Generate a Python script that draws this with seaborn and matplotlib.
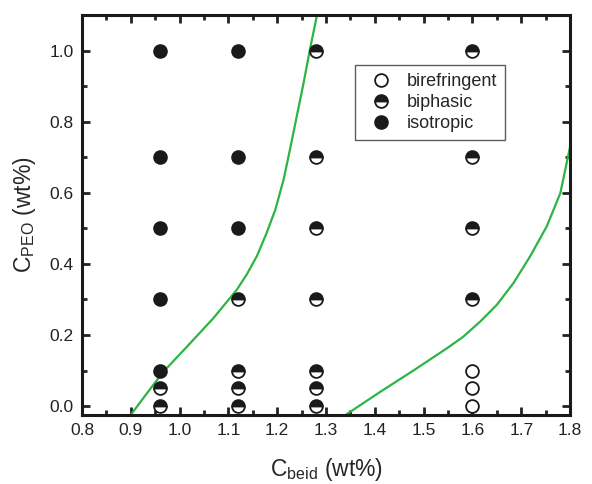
import numpy as np
import pandas as pd
import seaborn as sns
import matplotlib.pyplot as plt
from matplotlib.lines import Line2D
from matplotlib.ticker import MultipleLocator

# phase points: C_beid, C_PEO
biref_x = [1.6, 1.6, 1.6]
biref_y = [0.0, 0.05, 0.1]
biph_x = [0.96, 0.96,
          1.12, 1.12, 1.12, 1.12,
          1.28, 1.28, 1.28, 1.28, 1.28, 1.28, 1.28,
          1.6, 1.6, 1.6, 1.6]
biph_y = [0.0, 0.05,
          0.0, 0.05, 0.1, 0.3,
          0.0, 0.05, 0.1, 0.3, 0.5, 0.7, 1.0,
          0.3, 0.5, 0.7, 1.0]
iso_x = [0.96, 0.96, 0.96, 0.96, 0.96, 1.12, 1.12, 1.12]
iso_y = [0.1, 0.3, 0.5, 0.7, 1.0, 0.5, 0.7, 1.0]

# phase boundaries
b1_x = [0.902, 0.933, 0.967, 1.015, 1.069, 1.117, 1.137, 1.158, 1.178,
        1.196, 1.213, 1.226, 1.240, 1.254, 1.267, 1.281]
b1_y = [-0.021, 0.036, 0.097, 0.167, 0.247, 0.327, 0.369, 0.421, 0.486,
        0.552, 0.637, 0.721, 0.815, 0.909, 1.003, 1.097]
b2_x = [1.342, 1.411, 1.479, 1.547, 1.581, 1.616, 1.650, 1.684, 1.718,
        1.752, 1.780, 1.800]
b2_y = [-0.023, 0.040, 0.100, 0.162, 0.195, 0.238, 0.285, 0.346, 0.421,
        0.505, 0.599, 0.73]

sns.set_theme(style='ticks')
plt.rcParams['font.family'] = ['Liberation Sans', 'DejaVu Sans']
plt.rcParams['mathtext.default'] = 'regular'

fig = plt.figure(figsize=(5.92, 4.84), dpi=100)
ax = fig.add_axes([0.1385, 0.1426, 0.8245, 0.8264])

green = '#2db544'
for bx, by in [(b1_x, b1_y), (b2_x, b2_y)]:
    df = pd.DataFrame({'x': bx, 'y': by})
    sns.lineplot(data=df, x='x', y='y', sort=False, estimator=None,
                 color=green, lw=1.6, ax=ax, zorder=2)

ms = 9.2
mew = 1.3
dark = '#1a1a1a'
ax.plot(biref_x, biref_y, 'o', ms=ms, mfc='white', mec=dark, mew=mew,
        ls='none', zorder=3)
ax.plot(biph_x, biph_y, 'o', ms=ms, fillstyle='top', mfc=dark,
        mfcalt='white', mec=dark, mew=mew, ls='none', zorder=3)
ax.plot(iso_x, iso_y, 'o', ms=ms, mfc=dark, mec=dark, mew=mew,
        ls='none', zorder=3)

ax.set_xlim(0.8, 1.8)
ax.set_ylim(-0.025, 1.1)
ax.xaxis.set_major_locator(MultipleLocator(0.1))
ax.xaxis.set_minor_locator(MultipleLocator(0.05))
ax.yaxis.set_major_locator(MultipleLocator(0.2))
ax.yaxis.set_minor_locator(MultipleLocator(0.1))
ax.tick_params(which='both', direction='in', top=True, right=True,
               labelsize=12.5, colors='#222222', width=2)
ax.tick_params(which='major', length=6, pad=6)
ax.tick_params(which='minor', length=3.5)
for s in ax.spines.values():
    s.set_linewidth(2.2)
    s.set_color(dark)

ax.set_xlabel('C$_{beid}$ (wt%)', fontsize=16.5, labelpad=13)
ax.set_ylabel('C$_{PEO}$ (wt%)', fontsize=16.5, labelpad=8)

handles = [
    Line2D([], [], marker='o', ls='none', ms=ms, mfc='white', mec=dark, mew=mew),
    Line2D([], [], marker='o', ls='none', ms=ms, fillstyle='top', mfc=dark,
           mfcalt='white', mec=dark, mew=mew),
    Line2D([], [], marker='o', ls='none', ms=ms, mfc=dark, mec=dark, mew=mew),
]
leg = ax.legend(handles, ['birefringent', 'biphasic', 'isotropic'],
                loc='upper left', bbox_to_anchor=(0.559, 0.875), fontsize=13,
                frameon=True, fancybox=False, edgecolor='#333333',
                handletextpad=0.4, borderpad=0.45, labelspacing=0.22,
                handlelength=2.0, borderaxespad=0)
leg.get_frame().set_linewidth(1.0)

fig.savefig('out.png', dpi=100)
